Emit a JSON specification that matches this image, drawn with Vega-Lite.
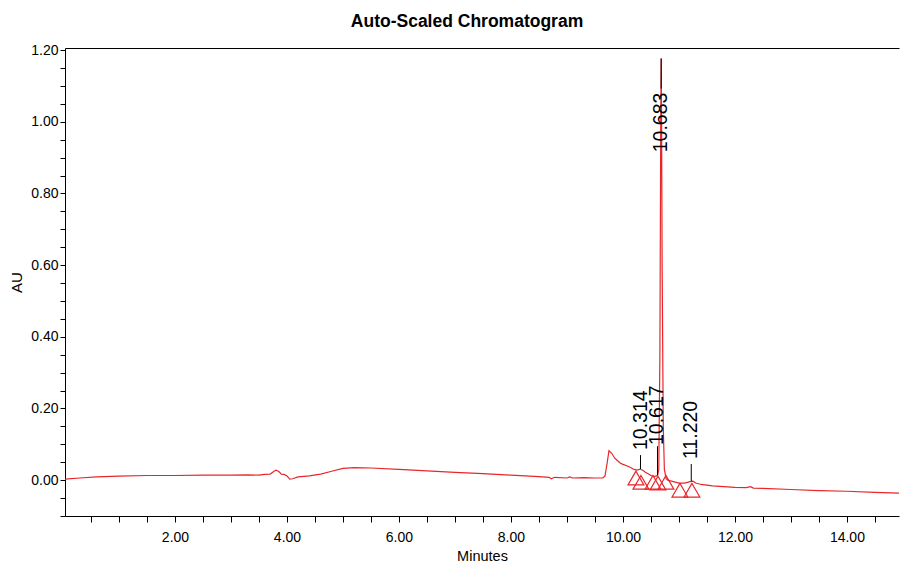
{
  "$schema": "https://vega.github.io/schema/vega-lite/v6.json",
  "width": 834,
  "height": 468,
  "autosize": {"type": "none"},
  "padding": {"left": 65, "top": 48, "right": 2, "bottom": 51},
  "background": "white",
  "title": {
    "text": "Auto-Scaled Chromatogram",
    "font": "Liberation Sans",
    "fontSize": 17.5,
    "fontWeight": "bold",
    "color": "#000000",
    "anchor": "middle",
    "dx": -15,
    "offset": 13
  },
  "config": {
    "view": {"stroke": null},
    "axis": {
      "domainColor": "#000000",
      "tickColor": "#000000",
      "labelColor": "#000000",
      "titleColor": "#000000",
      "labelFont": "Liberation Sans",
      "titleFont": "Liberation Sans",
      "titleFontWeight": "normal",
      "labelOverlap": false,
      "labelBound": false,
      "labelFlush": false,
      "grid": false
    }
  },
  "encoding": {
    "y": {
      "field": "au",
      "type": "quantitative",
      "scale": {"domain": [-0.1, 1.206], "nice": false, "zero": false},
      "axis": {
        "title": "AU",
        "titleFontSize": 15,
        "titlePadding": 6,
        "labelFontSize": 14,
        "labelPadding": 2,
        "tickSize": 5,
        "tickCount": 100,
        "values": [-0.1, -0.05, 0, 0.05, 0.1, 0.15, 0.2, 0.25, 0.3, 0.35, 0.4, 0.45, 0.5, 0.55, 0.6, 0.65, 0.7, 0.75, 0.8, 0.85, 0.9, 0.95, 1.0, 1.05, 1.1, 1.15, 1.2],
        "labelExpr": "round(datum.value * 100) % 20 === 0 ? format(datum.value, '.2f') : ''"
      }
    }
  },
  "resolve": {"axis": {"x": "independent"}},
  "layer": [
    {
      "data": {
        "values": [
          {"t": 0.036, "au": 0.003}, {"t": 0.3, "au": 0.006}, {"t": 0.6, "au": 0.009},
          {"t": 1.0, "au": 0.011}, {"t": 1.5, "au": 0.013}, {"t": 2.0, "au": 0.013},
          {"t": 2.5, "au": 0.014}, {"t": 3.0, "au": 0.014}, {"t": 3.3, "au": 0.015},
          {"t": 3.5, "au": 0.014}, {"t": 3.6, "au": 0.016}, {"t": 3.7, "au": 0.017},
          {"t": 3.8, "au": 0.028}, {"t": 3.85, "au": 0.025}, {"t": 3.9, "au": 0.017},
          {"t": 3.95, "au": 0.016}, {"t": 4.0, "au": 0.012}, {"t": 4.05, "au": 0.003},
          {"t": 4.1, "au": 0.004}, {"t": 4.2, "au": 0.009}, {"t": 4.4, "au": 0.012},
          {"t": 4.6, "au": 0.017}, {"t": 4.8, "au": 0.025}, {"t": 5.0, "au": 0.033},
          {"t": 5.2, "au": 0.035}, {"t": 5.5, "au": 0.034}, {"t": 6.0, "au": 0.030},
          {"t": 6.5, "au": 0.026}, {"t": 7.0, "au": 0.022}, {"t": 7.5, "au": 0.018},
          {"t": 8.0, "au": 0.014}, {"t": 8.5, "au": 0.010}, {"t": 8.68, "au": 0.008},
          {"t": 8.72, "au": 0.004}, {"t": 8.78, "au": 0.008}, {"t": 9.0, "au": 0.006},
          {"t": 9.05, "au": 0.009}, {"t": 9.1, "au": 0.006}, {"t": 9.3, "au": 0.007},
          {"t": 9.5, "au": 0.006}, {"t": 9.64, "au": 0.006}, {"t": 9.68, "au": 0.012},
          {"t": 9.72, "au": 0.05}, {"t": 9.75, "au": 0.082}, {"t": 9.8, "au": 0.075},
          {"t": 9.85, "au": 0.062}, {"t": 9.9, "au": 0.055}, {"t": 9.95, "au": 0.048},
          {"t": 10.0, "au": 0.044}, {"t": 10.1, "au": 0.038}, {"t": 10.2, "au": 0.030},
          {"t": 10.25, "au": 0.028}, {"t": 10.31, "au": 0.031}, {"t": 10.36, "au": 0.027},
          {"t": 10.4, "au": 0.022}, {"t": 10.45, "au": 0.018}, {"t": 10.5, "au": 0.013},
          {"t": 10.55, "au": 0.010}, {"t": 10.6, "au": 0.012}, {"t": 10.62, "au": 0.014},
          {"t": 10.64, "au": 0.03}, {"t": 10.66, "au": 0.35}, {"t": 10.675, "au": 1.0},
          {"t": 10.683, "au": 1.177}, {"t": 10.69, "au": 1.0}, {"t": 10.7, "au": 0.6},
          {"t": 10.72, "au": 0.15}, {"t": 10.74, "au": 0.03}, {"t": 10.77, "au": 0.005},
          {"t": 10.8, "au": 0.0}, {"t": 10.9, "au": -0.004}, {"t": 11.0, "au": -0.008},
          {"t": 11.1, "au": -0.008}, {"t": 11.2, "au": -0.004}, {"t": 11.25, "au": -0.003},
          {"t": 11.3, "au": -0.008}, {"t": 11.4, "au": -0.012}, {"t": 11.6, "au": -0.016},
          {"t": 11.8, "au": -0.018}, {"t": 12.0, "au": -0.020}, {"t": 12.2, "au": -0.021},
          {"t": 12.28, "au": -0.018}, {"t": 12.33, "au": -0.022}, {"t": 12.5, "au": -0.023},
          {"t": 13.0, "au": -0.026}, {"t": 13.5, "au": -0.029}, {"t": 14.0, "au": -0.031},
          {"t": 14.5, "au": -0.034}, {"t": 14.93, "au": -0.036}
        ]
      },
      "mark": {"type": "line", "color": "#e8262a", "strokeWidth": 1.2, "clip": true},
      "encoding": {
        "x": {
          "field": "t",
          "type": "quantitative",
          "scale": {"domain": [0.036, 14.93], "nice": false, "zero": false},
          "axis": {
            "title": "Minutes",
            "titleFontSize": 14.5,
            "titlePadding": 5,
            "labelFontSize": 14,
            "labelPadding": 8,
            "tickSize": 6,
            "tickCount": 100,
            "values": [0.5, 1, 1.5, 2, 2.5, 3, 3.5, 4, 4.5, 5, 5.5, 6, 6.5, 7, 7.5, 8, 8.5, 9, 9.5, 10, 10.5, 11, 11.5, 12, 12.5, 13, 13.5, 14, 14.5],
            "labelExpr": "datum.value % 2 === 0 ? format(datum.value, '.2f') : ''"
          }
        }
      }
    },
    {
      "data": {
        "values": [
          {"t": 10.314, "au": 0.031, "au2": 0.07},
          {"t": 10.617, "au": 0.014, "au2": 0.095},
          {"t": 10.683, "au": 1.093, "au2": 1.177},
          {"t": 11.22, "au": -0.003, "au2": 0.045}
        ]
      },
      "mark": {"type": "rule", "color": "#000000", "strokeWidth": 1},
      "encoding": {
        "x": {
          "field": "t",
          "type": "quantitative",
          "axis": {"orient": "top", "labels": false, "ticks": false, "title": null, "domain": true}
        },
        "y2": {"field": "au2"}
      }
    },
    {
      "data": {
        "values": [
          {"t": 10.232, "au": 0.006}, {"t": 10.321, "au": -0.006},
          {"t": 10.536, "au": -0.006}, {"t": 10.625, "au": -0.008},
          {"t": 10.768, "au": -0.006}, {"t": 11.018, "au": -0.028},
          {"t": 11.232, "au": -0.028}
        ]
      },
      "mark": {"type": "point", "shape": "triangle-up", "filled": false, "color": "#e8262a", "strokeWidth": 1.2, "size": 250, "opacity": 1},
      "encoding": {
        "x": {"field": "t", "type": "quantitative", "axis": null}
      }
    },
    {
      "data": {
        "values": [
          {"t": 10.314, "au": 0.084, "label": "10.314"},
          {"t": 10.617, "au": 0.098, "label": "10.617"},
          {"t": 10.683, "au": 0.915, "label": "10.683"},
          {"t": 11.22, "au": 0.059, "label": "11.220"}
        ]
      },
      "mark": {"type": "text", "angle": 270, "align": "left", "baseline": "middle", "font": "Liberation Sans", "fontSize": 19.5, "color": "#000000"},
      "encoding": {
        "x": {"field": "t", "type": "quantitative", "axis": null},
        "text": {"field": "label"}
      }
    }
  ]
}
